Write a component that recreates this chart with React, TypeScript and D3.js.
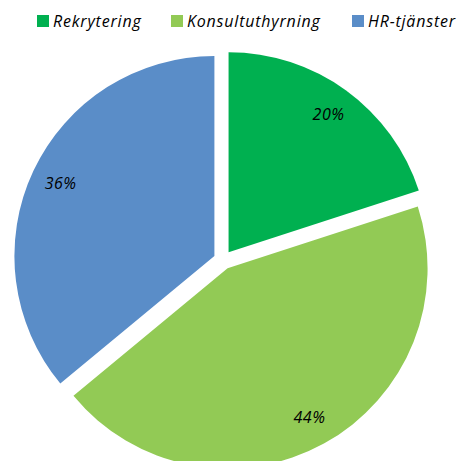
import { useRef, useEffect } from "react";
import * as d3 from "d3";

const categories = ["Rekrytering", "Konsultuthyrning", "HR-tjänster"];
const values = [20, 44, 36];
const colors = ["#00B050", "#92CA55", "#5A8DC8"];
const legendX = [37, 171, 352];

function App() {
  const svgRef = useRef<SVGSVGElement>(null);

  useEffect(() => {
    const w = 464;
    const h = 461;
    const svg = d3.select(svgRef.current).attr("width", w).attr("height", h);
    svg.selectAll("*").remove();

    const font = "'Open Sans', Lato, sans-serif";

    // pie
    const cx = 223;
    const cy = 260;
    const r = 200;
    const explode = 9.5;

    const pie = d3
      .pie<number>()
      .sort(null)
      .value((d) => d);
    const arcs = pie(values);
    const arc = d3.arc<d3.PieArcDatum<number>>().innerRadius(0).outerRadius(r);
    const labelArc = d3
      .arc<d3.PieArcDatum<number>>()
      .innerRadius(r * 0.85)
      .outerRadius(r * 0.85);
    const total = d3.sum(values);

    const g = svg.append("g").attr("transform", `translate(${cx},${cy})`);
    const slice = g
      .selectAll(".slice")
      .data(arcs)
      .join("g")
      .attr("class", "slice")
      .attr("transform", (d) => {
        const a = (d.startAngle + d.endAngle) / 2;
        return `translate(${Math.sin(a) * explode},${-Math.cos(a) * explode})`;
      });

    slice
      .append("path")
      .attr("d", arc)
      .attr("fill", (d, i) => colors[i]);

    slice
      .append("text")
      .attr("transform", (d) => {
        const [x, y] = labelArc.centroid(d);
        return `translate(${x},${y})`;
      })
      .attr("text-anchor", "middle")
      .attr("dy", "0.35em")
      .attr("font-family", font)
      .attr("font-style", "italic")
      .attr("font-size", 16)
      .attr("letter-spacing", 0.5)
      .attr("fill", "#000")
      .text((d) => `${Math.round((d.data / total) * 100)}%`);

    // legend
    const legend = svg
      .selectAll(".legend")
      .data(categories)
      .join("g")
      .attr("class", "legend")
      .attr("transform", (d, i) => `translate(${legendX[i]},0)`);

    legend
      .append("rect")
      .attr("x", 0)
      .attr("y", 15)
      .attr("width", 12)
      .attr("height", 12)
      .attr("fill", (d, i) => colors[i]);

    legend
      .append("text")
      .attr("x", 16)
      .attr("y", 27)
      .attr("font-family", font)
      .attr("font-style", "italic")
      .attr("font-size", 16)
      .attr("letter-spacing", 0.8)
      .attr("fill", "#000")
      .text((d) => d);
  }, []);

  return (
    <svg
      ref={svgRef}
      style={{ position: "absolute", left: 0, top: 0, display: "block" }}
    ></svg>
  );
}

export default App;
